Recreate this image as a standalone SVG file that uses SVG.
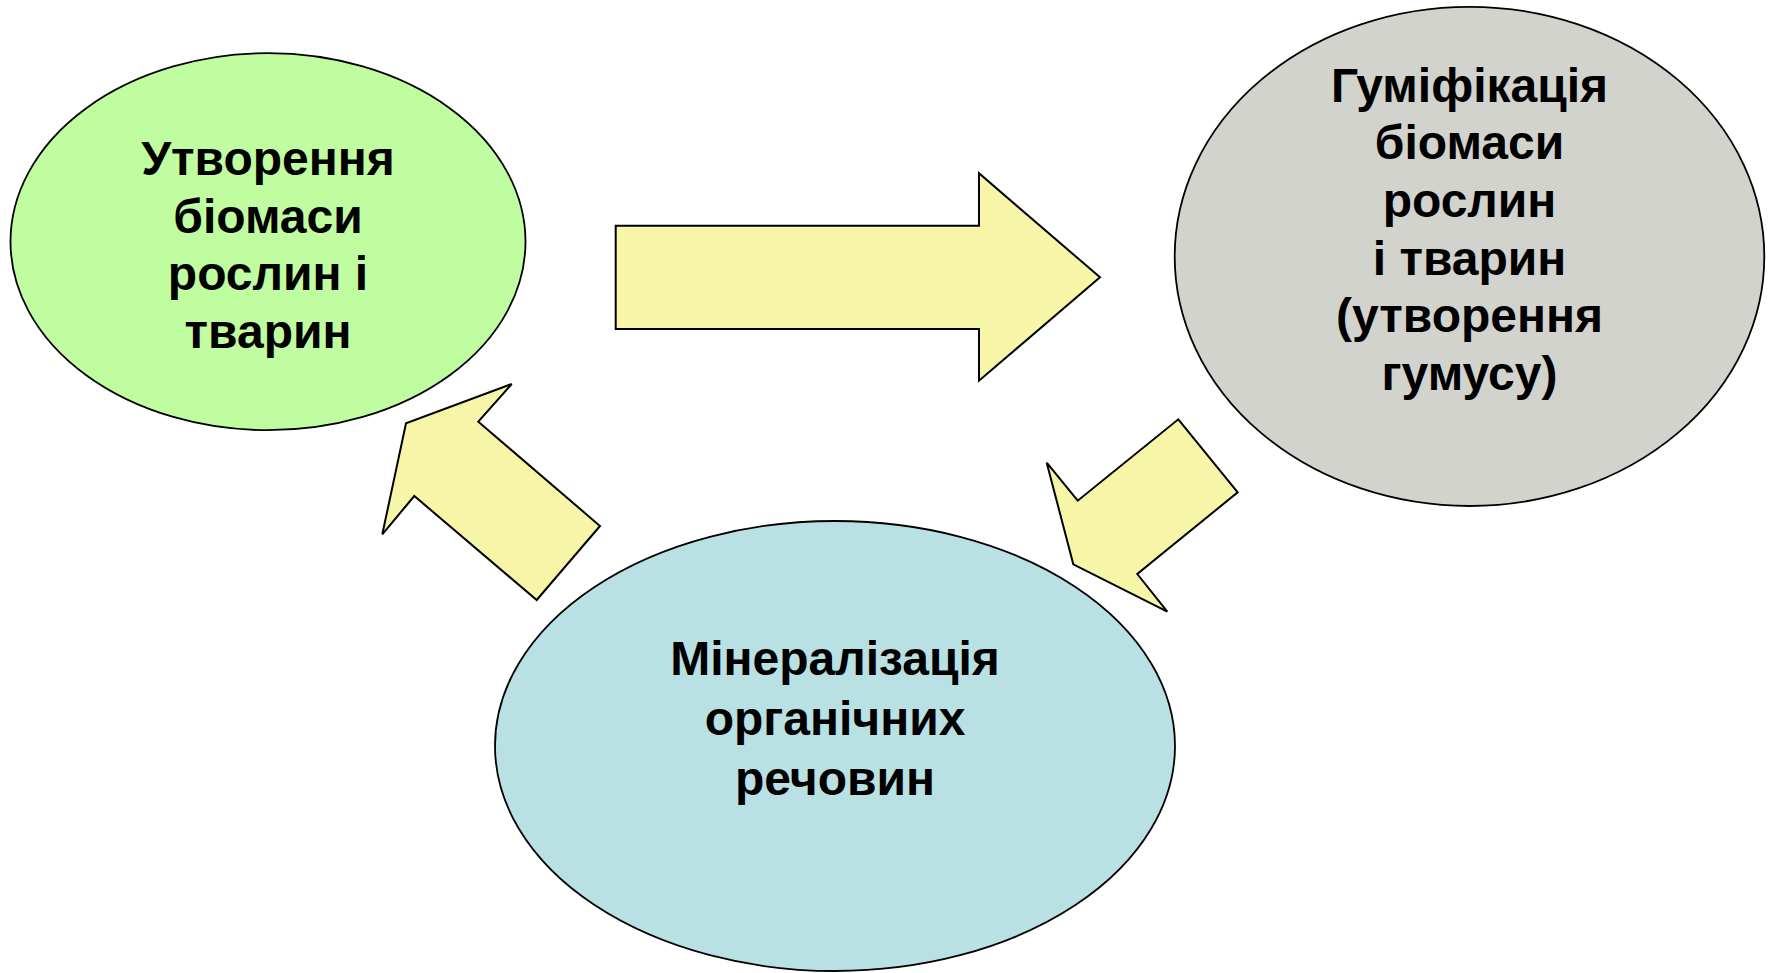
<svg xmlns="http://www.w3.org/2000/svg" width="1771" height="973" viewBox="0 0 1771 973">
<style>
.shape{stroke:#000;stroke-width:1.8}
.arrow{fill:#F7F6A8;stroke:#000;stroke-width:2;stroke-linejoin:miter}
text{font-family:"Liberation Sans",Arial,sans-serif;font-weight:bold;font-size:48px;fill:#000;text-anchor:middle}
</style>
<rect width="1771" height="973" fill="#fff"/>
<g id="node-biomass">
<ellipse class="shape" cx="268" cy="241.7" rx="257.5" ry="188.5" fill="#C0FCA0"/>
<text x="268" y="175">Утворення</text>
<text x="268" y="232.6">біомаси</text>
<text x="268" y="290.2">рослин і</text>
<text x="268" y="347.8">тварин</text>
</g>
<g id="node-humification">
<ellipse class="shape" cx="1469.5" cy="256.4" rx="294.8" ry="249.6" fill="#D3D3CD"/>
<text x="1469.5" y="101.7">Гуміфікація</text>
<text x="1469.5" y="159.3">біомаси</text>
<text x="1469.5" y="216.9">рослин</text>
<text x="1469.5" y="274.5">і тварин</text>
<text x="1469.5" y="332.1">(утворення</text>
<text x="1469.5" y="389.7">гумусу)</text>
</g>
<g id="node-mineralization">
<ellipse class="shape" cx="835" cy="746" rx="340" ry="225" fill="#B9E0E3"/>
<text x="835" y="675">Мінералізація</text>
<text x="835" y="735">органічних</text>
<text x="835" y="795">речовин</text>
</g>
<g id="connectors">
<polygon class="arrow" points="615.7,225.7 979,225.7 979,173.3 1100,277.3 979,380.7 979,329 615.7,329"/>
<polygon class="arrow" points="1178.3,419.3 1237.7,492.3 1137.3,574 1167.3,611.7 1073.3,564.3 1046.7,462.7 1077.7,500.7"/>
<polygon class="arrow" points="511.7,384 478.3,421.7 600,526 536.7,600 414.3,496 382.3,534.3 406,423.3"/>
</g>
</svg>
